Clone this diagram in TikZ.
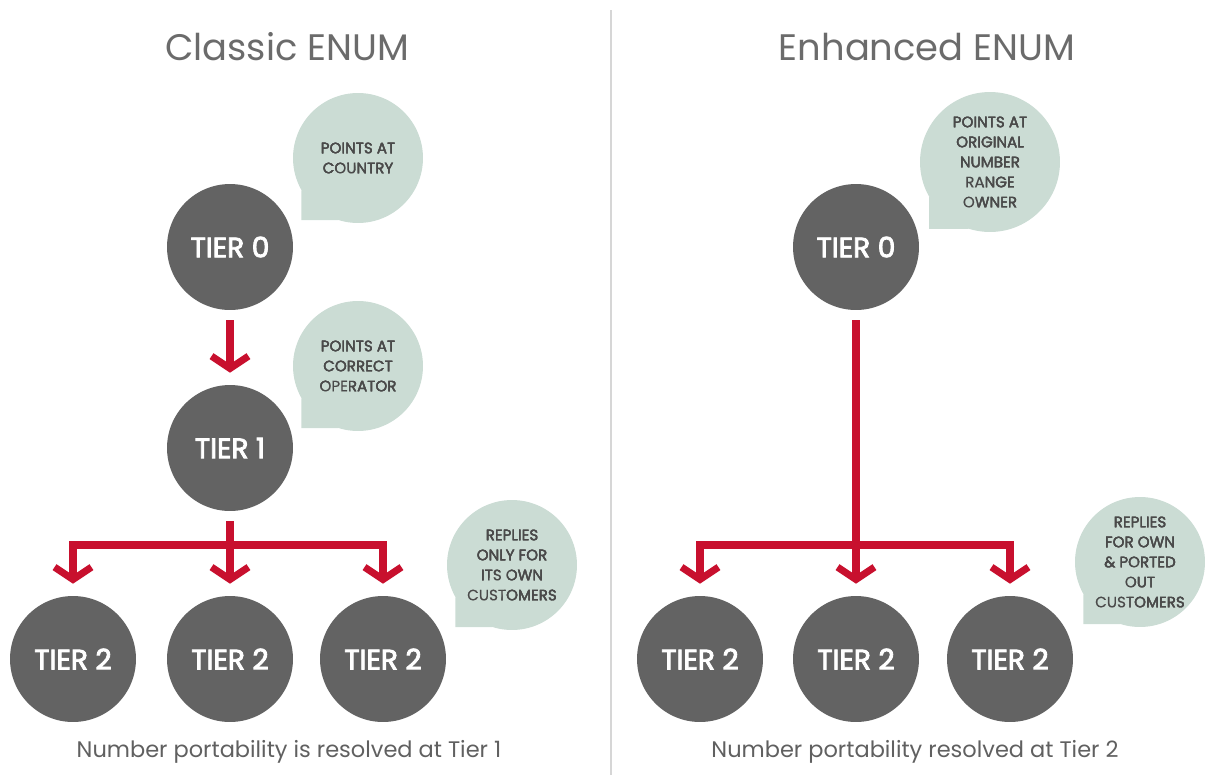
\documentclass[tikz,border=0pt]{standalone}
\usepackage{fontspec}
\setmainfont{Poppins}
\newfontfamily\tierfont[FakeBold=3]{Poppins}
\newfontfamily\notefont[FakeBold=0.5]{Poppins}
\usetikzlibrary{arrows.meta, calc}
\definecolor{tiergray}{HTML}{636363}
\definecolor{enumred}{HTML}{C8102E}
\definecolor{bubblegreen}{HTML}{CBDCD4}
\definecolor{bubbletext}{HTML}{4A4A4A}
\definecolor{titlegray}{HTML}{6B6B6B}
\definecolor{rulegray}{HTML}{D6D6D6}
\tikzset{
    >={Straight Barb[length=7pt, width=21pt]},
    tier/.style={circle, fill=tiergray, minimum size=2.52cm, inner sep=0pt,
        text=white, font=\tierfont\fontsize{16}{18}\selectfont},
    bubble/.style={circle, fill=bubblegreen, minimum size=2.6cm, inner sep=0pt,
        text=bubbletext, align=center, font=\notefont\fontsize{8.6}{11.4}\selectfont},
    pointer/.style={enumred, line width=4pt, ->, shorten <=0.2cm, shorten >=0.24cm},
    heading/.style={text=titlegray, font=\fontsize{21}{24}\selectfont},
    caption/.style={text=titlegray!90!black, font=\fontsize{12.8}{14}\selectfont},
    divider/.style={rulegray, line width=1.1pt},
}
\begin{document}
\begin{tikzpicture}[x=0.02cm, y=-0.02cm]
    \useasboundingbox (0,0) rectangle (1205,775);
    \draw[divider] (611,10) -- (611,775);
    \node[heading] (classic) at (287,47) {Classic ENUM};
    \node[heading] (enhanced) at (927,47) {Enhanced ENUM};
    % classic tree
    \node[tier] (c0) at (230,247) {TIER 0};
    \node[tier] (c1) at (230,448) {TIER 1};
    \foreach \n/\x in {a/73,b/230,c/383}
        \node[tier] (c2\n) at (\x,659) {TIER 2};
    % enhanced tree
    \node[tier] (e0) at (856,247) {TIER 0};
    \foreach \n/\x in {a/700,b/856,c/1010}
        \node[tier] (e2\n) at (\x,659) {TIER 2};
    % speech bubbles
    \foreach \b/\cx/\cy/\sz/\txt in {
        country/358/158/2.6cm/{POINTS AT\\COUNTRY},
        operator/358/366/2.6cm/{POINTS AT\\CORRECT\\OPERATOR},
        ownonly/512/565/2.6cm/{REPLIES\\ONLY FOR\\ITS OWN\\CUSTOMERS},
        rangeowner/990/162/2.8cm/{POINTS AT\\ORIGINAL\\NUMBER\\RANGE\\OWNER},
        portedout/1140/562/2.6cm/{REPLIES\\FOR OWN\\\& PORTED\\OUT\\CUSTOMERS}} {
        \node[bubble, minimum size=\sz] (\b) at (\cx,\cy) {\txt};
        \fill[bubblegreen] (\b.center) -- (\b.210) -- (\b.210 |- \b.252) -- (\b.252) -- cycle;
        \node[bubble, minimum size=\sz, fill=none] at (\b) {\txt};
    }
    % connectors
    \coordinate (cfork) at (230,545);
    \coordinate (efork) at (856,545);
    \draw[pointer] (c0) -- (c1);
    \draw[pointer] (c1) -- (c2b);
    \foreach \n in {a,c}
        \draw[pointer, shorten <=0pt] (cfork) -| (c2\n);
    \draw[pointer] (e0) -- (e2b);
    \foreach \n in {a,c}
        \draw[pointer, shorten <=0pt] (efork) -| (e2\n);
    \node[caption] (classicnote) at (289,752) {Number portability is resolved at Tier 1};
    \node[caption] (enhancednote) at (915,752) {Number portability resolved at Tier 2};
\end{tikzpicture}
\end{document}
